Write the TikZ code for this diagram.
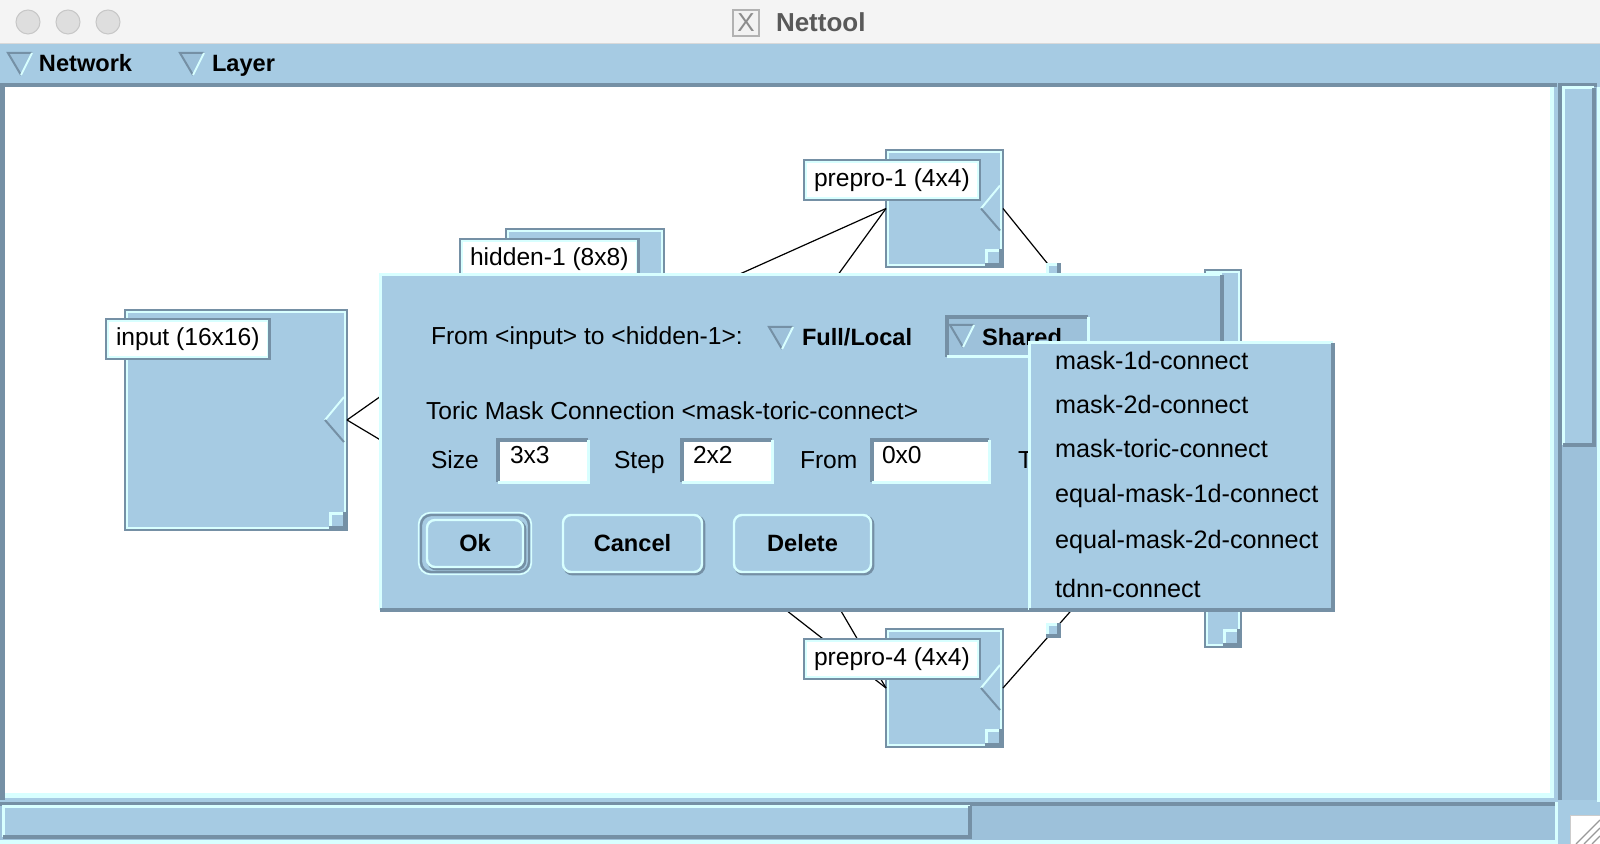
\documentclass[tikz,border=0pt]{standalone}
\usepackage{fontspec}
\setmainfont{Liberation Sans}
\usepackage{tikz}

\definecolor{Win}{RGB}{166,203,227}
\definecolor{Trough}{RGB}{157,193,218}
\definecolor{Shade}{RGB}{117,144,165}
\definecolor{Hilite}{RGB}{216,255,255}
\definecolor{TitleBar}{RGB}{244,244,244}

\newcommand{\uifont}{\fontsize{12.3}{14}\selectfont}
\newcommand{\uibold}{\bfseries\fontsize{11.8}{14}\selectfont}
\newcommand{\raisedframe}[1]{%
	\draw[Hilite, line width=1.5pt] (#1.south west) -- (#1.north west) -- (#1.north east);
	\draw[Shade, line width=2pt] (#1.north east) -- (#1.south east) -- (#1.south west);}
\newcommand{\sunkenframe}[1]{%
	\draw[Shade, line width=2pt] (#1.south west) -- (#1.north west) -- (#1.north east);
	\draw[Hilite, line width=1.5pt] (#1.north east) -- (#1.south east) -- (#1.south west);}
\newcommand{\notch}[1]{%
	\draw[Hilite, line width=1pt] ([xshift=-1.5pt,yshift=11.5pt]#1.east) -- ([xshift=-11pt]#1.east);
	\draw[Shade, line width=1pt] ([xshift=-11pt]#1.east) -- ([xshift=-1.5pt,yshift=-11pt]#1.east);}
\newcommand{\droptri}[1]{%
	\fill[Trough] (#1) -- ++(24,0) -- ++(-11,22) -- cycle;
	\draw[Shade, line width=1pt] (#1) ++(13,22) -- ++(-13,-22) -- ++(24,0);
	\draw[Hilite, line width=1pt] (#1) ++(24,0) -- ++(-11,22);}

\begin{document}
\begin{tikzpicture}[x=0.5pt, y=-0.5pt, inner sep=0pt, outer sep=0pt,
	panel/.style={fill=Win, anchor=north west},
	layer/.style={fill=Win, draw=Shade, line width=1pt, anchor=north west,
		path picture={\draw[Hilite, line width=2.6pt] (path picture bounding box.north west) rectangle (path picture bounding box.south east);}},
	lbl/.style={fill=white, draw=Shade, line width=1.2pt, anchor=north west, inner xsep=5pt, minimum height=20pt, font=\uifont,
		path picture={\draw[Hilite, line width=3pt] (path picture bounding box.north west) rectangle (path picture bounding box.south east);}},
	handle/.style={minimum size=9pt, fill=Shade,
		path picture={\fill[Hilite] (path picture bounding box.north west) rectangle ([xshift=-2pt,yshift=2pt]path picture bounding box.south east);
			\fill[Win] ([xshift=1.5pt,yshift=-1.5pt]path picture bounding box.north west) rectangle ([xshift=-2pt,yshift=2pt]path picture bounding box.south east);}},
	conn/.style={black, line width=0.6pt},
	txt/.style={anchor=base west, font=\uifont},
	field/.style={fill=white, anchor=north west, minimum height=21pt},
	btn/.style={fill=Win, draw=Hilite, line width=1.2pt, rounded corners=4pt, minimum height=28.5pt, font=\uibold,
		preaction={draw=Shade, line width=1.8pt, transform canvas={xshift=0.8pt,yshift=-0.8pt}}}]
	\useasboundingbox (0,0) rectangle (1600,844);

	\fill[Win] (0,43) rectangle (1600,844);
	\fill[TitleBar] (0,0) rectangle (1600,43);
	\draw[black!15, line width=0.5pt] (0,43.5) -- (1600,43.5);
	\foreach \cx in {28,68,108}
		\draw[black!22, fill=black!13, line width=0.5pt] (\cx,22) circle (6pt);
	\node[draw=black!30, fill=black!5, line width=0.6pt, minimum width=13pt, minimum height=13pt, text=black!45, font=\fontsize{13}{13}\selectfont] (xicon) at (746,23) {X};
	\node[anchor=west, text=black!65, font=\bfseries\fontsize{13}{15}\selectfont] (title) at (776,22) {Nettool};

	\droptri{8,53}
	\node[txt, font=\uibold] (netmenu) at (39,72) {Network};
	\droptri{180,53}
	\node[txt, font=\uibold] (laymenu) at (212,72) {Layer};
	\fill[Shade] (0,83) rectangle (1557,87);

	\fill[white] (5,87) rectangle (1550,793);
	\fill[Shade] (0,87) rectangle (5,800);
	\fill[Hilite] (1550,87) rectangle (1554,798);
	\fill[Hilite] (5,793) rectangle (1554,798);

	\fill[Trough] (1558,87) rectangle (1597,800);
	\fill[Shade] (1558,83) rectangle (1562,800);
	\fill[Shade] (1558,83) rectangle (1597,87);
	\fill[Hilite] (1597,87) rectangle (1600,802);
	\node[panel, minimum width=15.5pt, minimum height=178.5pt] (vslider) at (1563,88) {};
	\raisedframe{vslider}

	\fill[Shade] (0,802) rectangle (1557,806);
	\fill[Trough] (0,806) rectangle (1555,840);
	\fill[Hilite] (0,840) rectangle (1558,844);
	\fill[Hilite] (1555,802) rectangle (1558,844);
	\node[panel, minimum width=483.5pt, minimum height=15.5pt] (hslider) at (3,806) {};
	\raisedframe{hslider}
	\node[draw=black!20, fill=white, anchor=north west, minimum width=15pt, minimum height=14.5pt] (grip) at (1570,815) {};
	\foreach \d in {4,8,12}
		\draw[black!40, line width=0.6pt] ([xshift=-\d pt]grip.south east) -- ([yshift=\d pt]grip.south east);

	% layers
	\node[layer, minimum width=111pt, minimum height=110pt] (input) at (125,310) {};
	\node[layer, minimum width=79pt, minimum height=79pt] (hidden1) at (506,229) {};
	\node[layer, minimum width=58.5pt, minimum height=58.5pt] (prepro1) at (886,150) {};
	\node[layer, minimum width=58.5pt, minimum height=59pt] (prepro4) at (886,629) {};
	\node[layer, minimum width=18pt, minimum height=188.5pt] (output) at (1205,270) {};
	\coordinate (hidden2in) at (506,515);
	\coordinate (hidden2out) at (664,515);
	\foreach \l in {input,hidden1,prepro1,prepro4}
		\notch{\l}
	\foreach \l in {input,prepro1,prepro4,output}
		\node[handle, anchor=south east] (\l grip) at (\l.south east) {};

	\draw[conn] (input.east) -- (hidden1.west);
	\draw[conn] (input.east) -- (hidden2in);
	\draw[conn] (hidden1.east) -- (prepro1.west);
	\draw[conn] (hidden1.east) -- (prepro4.west);
	\draw[conn] (hidden2out) -- (prepro1.west);
	\draw[conn] (hidden2out) -- (prepro4.west);
	\draw[conn] (prepro1.east) -- node[handle, minimum size=7.5pt, pos=.25] (link1) {} (output.west);
	\draw[conn] (prepro4.east) -- node[handle, minimum size=7.5pt, pos=.25] (link4) {} (output.west);

	\node[lbl] (inputlbl) at (106,319) {input (16x16)};
	\node[lbl] (hidden1lbl) at (460,239) {hidden-1 (8x8)};
	\node[lbl] (prepro1lbl) at (804,160) {prepro-1 (4x4)};
	\node[lbl] (prepro4lbl) at (804,639) {prepro-4 (4x4)};

	% connection dialog
	\node[panel, minimum width=421pt, minimum height=167.5pt] (dialog) at (380,275) {};
	\raisedframe{dialog}
	\node[txt] (fromto) at (431,345) {From <input> to <hidden-1>:};
	\droptri{769,327}
	\node[txt, font=\uibold] (fulllocal) at (802,346) {Full/Local};
	\node[panel, fill=Trough, minimum width=70.5pt, minimum height=20pt] (sharedbtn) at (947,317) {};
	\sunkenframe{sharedbtn}
	\droptri{950,325}
	\node[txt, font=\uibold] (shared) at (982,346) {Shared};

	\node[txt] (toric) at (426,419) {Toric Mask Connection <mask-toric-connect>};
	\node[txt] (sizelbl) at (431,468) {Size};
	\node[field, minimum width=45pt] (sizefield) at (498,440) {};
	\sunkenframe{sizefield}
	\node[txt] (sizeval) at (510,463) {3x3};
	\node[txt] (steplbl) at (614,468) {Step};
	\node[field, minimum width=45pt] (stepfield) at (682,440) {};
	\sunkenframe{stepfield}
	\node[txt] (stepval) at (693,463) {2x2};
	\node[txt] (fromlbl) at (800,468) {From};
	\node[field, minimum width=58.5pt] (fromfield) at (872,440) {};
	\sunkenframe{fromfield}
	\node[txt] (fromval) at (882,463) {0x0};
	\node[txt] (tolbl) at (1018,468) {To};

	\node[btn, minimum width=48pt, minimum height=23.5pt] (okbtn) at (475,543.5) {Ok};
	\draw[Shade, line width=1.2pt, rounded corners=5pt] ([shift={(-3pt,2.5pt)}]okbtn.north west) rectangle ([shift={(3pt,-2.5pt)}]okbtn.south east);
	\draw[Hilite, line width=0.8pt, rounded corners=6pt] ([shift={(-4.2pt,3.7pt)}]okbtn.north west) rectangle ([shift={(4.2pt,-3.7pt)}]okbtn.south east);
	\node[btn, minimum width=69.5pt] (cancelbtn) at (632.5,543.5) {Cancel};
	\node[btn, minimum width=68.5pt] (deletebtn) at (802.5,543.5) {Delete};

	% shared menu
	\node[panel, minimum width=152pt, minimum height=133.5pt] (popup) at (1029,343) {};
	\raisedframe{popup}
	\foreach \y/\t in {370/mask-1d-connect, 414/mask-2d-connect, 458/mask-toric-connect,
		502/equal-mask-1d-connect, 548/equal-mask-2d-connect, 597/tdnn-connect}
		\node[txt, font=\fontsize{12.6}{14}\selectfont] (item\y) at (1055,\y) {\t};
\end{tikzpicture}
\end{document}
